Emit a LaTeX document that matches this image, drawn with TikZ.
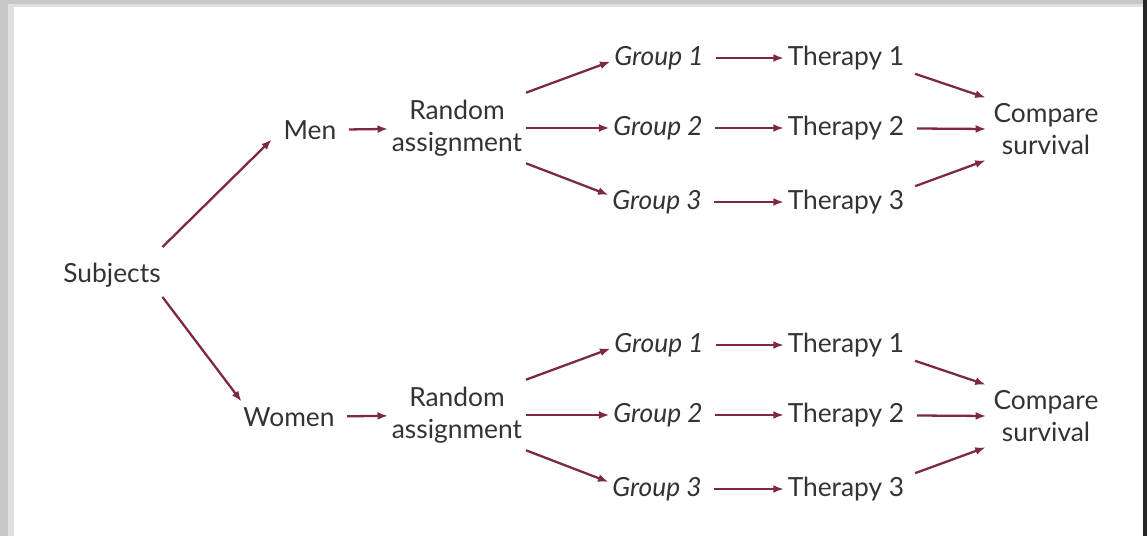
\documentclass[tikz,border=0pt]{standalone}
\usepackage{fontspec}
\setmainfont{Lato}
\usetikzlibrary{arrows.meta}
\definecolor{arrowred}{HTML}{7E2848}
\definecolor{textgray}{HTML}{333333}
\begin{document}
\begin{tikzpicture}[x=0.02cm, y=-0.02cm, word/.style={font=\fontsize{15}{18}\selectfont, text=textgray, inner sep=2pt, align=center}, group/.style={word, font=\fontsize{15}{18}\selectfont\itshape}, arr/.style={draw=arrowred, line width=1.3pt, -{Latex[length=6pt,width=4.5pt]}}, gap/.style={shorten <=5pt}]
      \useasboundingbox (0,0) rectangle (1147,536);
      % frame
      \fill[black!22] (0,0) rectangle (1147,536);
      \fill[black!12] (8,4) rectangle (1147,536);
      \fill[white] (14,7) rectangle (1143,536);
      \fill[black!85] (1143,0) rectangle (1147,536);

      \node[word] (subj) at (112, 275) {Subjects};
      \node[word] (men) at (310, 130) {Men};
      \node[word] (women) at (289, 417) {Women};

      % men
      \node[word]  (r1) at (457, 128) {Random\\assignment};
      \node[group] (g11) at (659, 58) {Group 1};
      \node[group] (g12) at (658, 128) {Group 2};
      \node[group] (g13) at (657, 202) {Group 3};
      \node[word]  (t11) at (846, 58) {Therapy 1};
      \node[word]  (t12) at (846, 128) {Therapy 2};
      \node[word]  (t13) at (846, 202) {Therapy 3};
      \node[word]  (c1) at (1046, 129) {Compare\\survival};

      % women
      \node[word]  (r2) at (457, 415) {Random\\assignment};
      \node[group] (g21) at (659, 345) {Group 1};
      \node[group] (g22) at (658, 415) {Group 2};
      \node[group] (g23) at (657, 489) {Group 3};
      \node[word]  (t21) at (846, 345) {Therapy 1};
      \node[word]  (t22) at (846, 415) {Therapy 2};
      \node[word]  (t23) at (846, 489) {Therapy 3};
      \node[word]  (c2) at (1046, 416) {Compare\\survival};

      \draw[arr] ([shift={(-2,-12)}]subj.north east) -- ([shift={(-8,-4)}]men.south west);
      \draw[arr] ([shift={(-2,6)}]subj.south east) -- ([shift={(2,-2)}]women.north west);
      \draw[arr, gap] (men) -- (r1);
      \draw[arr, gap] (women) -- (r2);

      \draw[arr] ([yshift=2pt]r1.north east) -- ([yshift=-2pt]g11.west);
      \draw[arr] (r1.east) -- (g12.west);
      \draw[arr] ([yshift=-2pt]r1.south east) -- ([yshift=4pt]g13.west);
      \draw[arr, gap] (g11) -- (t11);
      \draw[arr, gap] (g12) -- (t12);
      \draw[arr, gap] (g13) -- (t13);
      \draw[arr] ([xshift=4pt]t11.south east) -- ([shift={(-4,-2)}]c1.north west);
      \draw[arr, gap] (t12) -- ([xshift=-2pt]c1.west);
      \draw[arr] ([xshift=4pt]t13.north east) -- ([shift={(-4,2)}]c1.south west);

      \draw[arr] ([yshift=2pt]r2.north east) -- ([yshift=-2pt]g21.west);
      \draw[arr] (r2.east) -- (g22.west);
      \draw[arr] ([yshift=-2pt]r2.south east) -- ([yshift=4pt]g23.west);
      \draw[arr, gap] (g21) -- (t21);
      \draw[arr, gap] (g22) -- (t22);
      \draw[arr, gap] (g23) -- (t23);
      \draw[arr] ([xshift=4pt]t21.south east) -- ([shift={(-4,-2)}]c2.north west);
      \draw[arr, gap] (t22) -- ([xshift=-2pt]c2.west);
      \draw[arr] ([xshift=4pt]t23.north east) -- ([shift={(-4,2)}]c2.south west);
    \end{tikzpicture}
\end{document}
